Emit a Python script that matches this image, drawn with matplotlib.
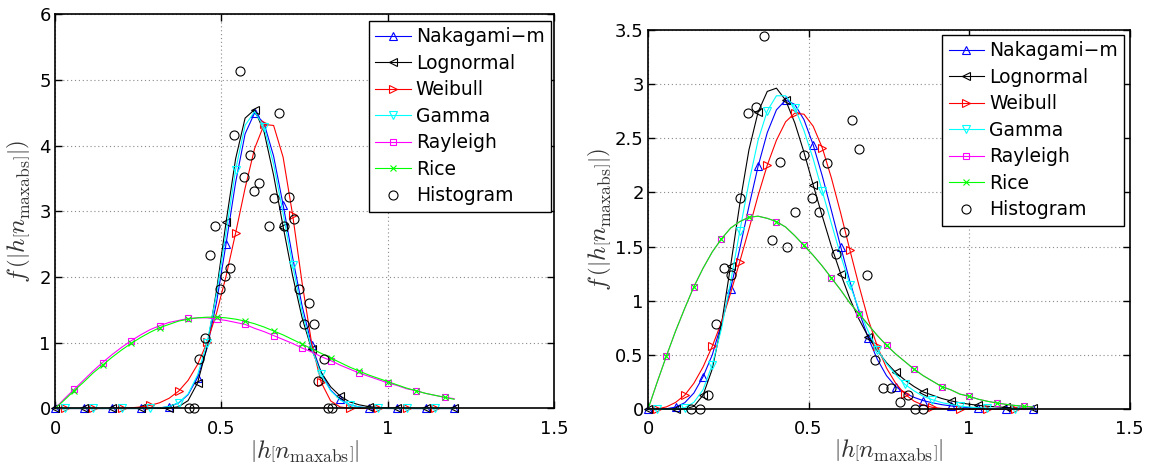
import numpy as np
import matplotlib
matplotlib.use('Agg')
import matplotlib.pyplot as plt
from matplotlib.ticker import FuncFormatter

plt.rcParams['font.family'] = 'DejaVu Sans'
plt.rcParams['mathtext.fontset'] = 'cm'

# ---------------------------------------------------------------------------
# Fitted pdfs, all sampled on the same grid 0 .. 1.2 (43 points)
# ---------------------------------------------------------------------------

x_fit = np.linspace(0, 1.2, 43)

# left panel
l_nakagami = [0, 0, 0, 0, 0, 0, 0, 0, 0, 0, 0, 0.009, 0.029, 0.083, 0.21, 0.47, 0.92, 1.62,
              2.51, 3.44, 4.18, 4.50, 4.34, 3.84, 3.10, 2.30, 1.56, 0.97, 0.55, 0.28, 0.14,
              0.059, 0.023, 0.009, 0.003, 0, 0, 0, 0, 0, 0, 0, 0]
l_lognormal = [0, 0, 0, 0, 0, 0, 0, 0, 0, 0, 0, 0, 0.004, 0.027, 0.12, 0.39, 0.94, 1.80,
               2.84, 3.80, 4.42, 4.55, 4.21, 3.55, 2.77, 2.02, 1.38, 0.90, 0.55, 0.33, 0.19,
               0.10, 0.056, 0.029, 0.015, 0.007, 0.004, 0.002, 0, 0, 0, 0, 0]
l_weibull = [0, 0, 0, 0, 0, 0, 0.002, 0.004, 0.010, 0.023, 0.046, 0.087, 0.155, 0.263,
             0.428, 0.670, 1.006, 1.454, 2.016, 2.669, 3.354, 3.957, 4.324, 4.308, 3.825,
             2.949, 1.910, 0.996, 0.400, 0.116, 0.023, 0.003, 0, 0, 0, 0, 0, 0, 0, 0, 0, 0, 0]
l_gamma = [0, 0, 0, 0, 0, 0, 0, 0, 0, 0, 0, 0.009, 0.030, 0.088, 0.22, 0.51, 1.00, 1.75,
           2.68, 3.63, 4.31, 4.52, 4.28, 3.72, 2.97, 2.18, 1.47, 0.91, 0.52, 0.27, 0.13,
           0.057, 0.023, 0.009, 0.003, 0, 0, 0, 0, 0, 0, 0, 0]
l_rayleigh = [0, 0.15, 0.29, 0.43, 0.57, 0.70, 0.82, 0.93, 1.03, 1.12, 1.20, 1.26, 1.31,
              1.34, 1.37, 1.38, 1.38, 1.36, 1.34, 1.31, 1.28, 1.22, 1.17, 1.11, 1.05, 0.99,
              0.92, 0.86, 0.79, 0.73, 0.66, 0.60, 0.54, 0.49, 0.44, 0.39, 0.35, 0.30, 0.27,
              0.23, 0.20, 0.17, 0.15]
l_rice = [0, 0.13, 0.27, 0.40, 0.54, 0.66, 0.78, 0.89, 0.99, 1.08, 1.16, 1.23, 1.28, 1.33,
          1.36, 1.38, 1.39, 1.39, 1.38, 1.36, 1.33, 1.29, 1.24, 1.18, 1.12, 1.05, 0.98, 0.91,
          0.84, 0.77, 0.70, 0.63, 0.57, 0.51, 0.46, 0.41, 0.36, 0.31, 0.27, 0.23, 0.20, 0.17,
          0.14]

l_hist_x = [0.403, 0.418, 0.434, 0.450, 0.466, 0.480, 0.496, 0.510, 0.525, 0.539, 0.555,
            0.569, 0.585, 0.599, 0.614, 0.644, 0.658, 0.674, 0.689, 0.704, 0.719, 0.734,
            0.748, 0.764, 0.778, 0.792, 0.808, 0.820, 0.834]
l_hist_y = [0, 0, 0.75, 1.08, 2.34, 2.78, 1.82, 2.02, 2.14, 4.16, 5.13, 3.53, 3.86, 3.31,
            3.43, 2.78, 3.21, 4.50, 2.78, 3.22, 2.89, 1.82, 1.28, 1.60, 1.28, 0.42, 0.75, 0, 0]

# right panel
r_nakagami = [0, 0, 0.005, 0.02, 0.06, 0.15, 0.30, 0.50, 0.79, 1.11, 1.48, 1.87, 2.24,
              2.55, 2.76, 2.85, 2.81, 2.67, 2.44, 2.15, 1.83, 1.50, 1.18, 0.90, 0.66, 0.46,
              0.31, 0.21, 0.15, 0.11, 0.08, 0.06, 0.043, 0.031, 0.022, 0.015, 0.010, 0.006,
              0.004, 0.002, 0.001, 0, 0]
r_lognormal = [0, 0, 0, 0, 0.003, 0.027, 0.13, 0.37, 0.78, 1.32, 1.89, 2.39, 2.74, 2.93,
               2.96, 2.85, 2.64, 2.37, 2.07, 1.78, 1.50, 1.25, 1.02, 0.83, 0.67, 0.54, 0.43,
               0.34, 0.27, 0.21, 0.16, 0.13, 0.10, 0.078, 0.060, 0.047, 0.037, 0.028, 0.022,
               0.017, 0.013, 0.010, 0.008]
r_weibull = [0, 0.003, 0.022, 0.063, 0.13, 0.24, 0.39, 0.58, 0.80, 1.07, 1.36, 1.66, 1.97,
             2.25, 2.48, 2.65, 2.73, 2.72, 2.61, 2.41, 2.13, 1.81, 1.47, 1.14, 0.83, 0.58,
             0.38, 0.24, 0.14, 0.075, 0.038, 0.018, 0.008, 0.003, 0.001, 0, 0, 0, 0, 0, 0, 0, 0]
r_gamma = [0, 0, 0, 0.002, 0.015, 0.064, 0.18, 0.41, 0.74, 1.17, 1.64, 2.09, 2.48, 2.75,
           2.89, 2.89, 2.78, 2.57, 2.31, 2.01, 1.71, 1.42, 1.15, 0.92, 0.72, 0.55, 0.42,
           0.32, 0.23, 0.17, 0.12, 0.088, 0.062, 0.044, 0.030, 0.021, 0.014, 0.010, 0.007,
           0.004, 0.003, 0.002, 0.001]
r_rayleigh = [0, 0.25, 0.49, 0.72, 0.93, 1.13, 1.30, 1.45, 1.57, 1.67, 1.73, 1.77, 1.78,
              1.76, 1.73, 1.68, 1.60, 1.51, 1.42, 1.32, 1.21, 1.10, 0.98, 0.88, 0.78, 0.68,
              0.59, 0.51, 0.44, 0.37, 0.31, 0.26, 0.21, 0.18, 0.14, 0.12, 0.093, 0.074,
              0.058, 0.046, 0.035, 0.027, 0.021]
r_rice = [0, 0.25, 0.49, 0.72, 0.93, 1.13, 1.30, 1.45, 1.57, 1.67, 1.73, 1.77, 1.78, 1.76,
          1.73, 1.68, 1.60, 1.51, 1.42, 1.32, 1.21, 1.10, 0.98, 0.88, 0.78, 0.68, 0.59,
          0.51, 0.44, 0.37, 0.31, 0.26, 0.21, 0.18, 0.14, 0.12, 0.093, 0.074, 0.058, 0.046,
          0.035, 0.027, 0.021]

r_hist_x = [0.134, 0.162, 0.188, 0.212, 0.237, 0.258, 0.287, 0.312, 0.337, 0.361, 0.385,
            0.411, 0.434, 0.459, 0.486, 0.510, 0.534, 0.559, 0.585, 0.609, 0.634, 0.658,
            0.683, 0.708, 0.733, 0.758, 0.784, 0.809, 0.832, 0.856]
r_hist_y = [0, 0, 0.13, 0.785, 1.305, 1.237, 1.95, 2.73, 2.79, 3.44, 1.56, 2.276, 1.495,
            1.82, 2.34, 1.95, 1.82, 2.27, 1.43, 1.63, 2.665, 2.40, 1.236, 0.454, 0.197,
            0.197, 0.07, 0.13, 0, 0]

# label, colour, marker, marker size, first marked sample
FITS = [
    ('Nakagami\u2212m', '#0000ff', '^', 6, 0),
    ('Lognormal', '#000000', '<', 6, 0),
    ('Weibull', '#ff0000', '>', 6, 1),
    ('Gamma', '#00ffff', 'v', 6, 1),
    ('Rayleigh', '#ff00ff', 's', 5, 2),
    ('Rice', '#00ff00', 'x', 4.5, 2),
]

XLABEL = r'$\left|h\left[n_{\mathrm{maxabs}}\right]\right|$'
YLABEL = r'$f\,\left(\left|h\left[n_{\mathrm{maxabs}}\right]\right|\right)$'


def draw_panel(ax, curves, hist_x, hist_y, ymax, ystep, leg_anchor, ylab_x):
    for (label, color, marker, ms, start), y in zip(FITS, curves):
        ax.plot(x_fit, y, color=color, lw=0.8, marker=marker, ms=ms, mfc='none',
                mec=color, mew=0.8, markevery=(start, 3), clip_on=False, label=label)
    ax.plot(hist_x, hist_y, 'o', ms=6.5, mfc='none', mec='k', mew=0.8,
            clip_on=False, label='Histogram')

    ax.set_xlim(0, 1.5)
    ax.set_ylim(0, ymax)
    ax.set_xticks([0, 0.5, 1, 1.5])
    ax.set_yticks(np.arange(0, ymax + 1e-9, ystep))
    fmt = FuncFormatter(lambda v, p: f'{v:g}')
    ax.xaxis.set_major_formatter(fmt)
    ax.yaxis.set_major_formatter(fmt)
    ax.tick_params(direction='in', length=5, width=1, top=True, right=True, labelsize=13)
    ax.tick_params(axis='x', pad=8)
    ax.tick_params(axis='y', pad=3)
    for sp in ax.spines.values():
        sp.set_linewidth(1.2)
    ax.grid(True, ls=(0, (1, 2.5)), lw=0.8, color='#8a8a8a')
    ax.set_axisbelow(True)

    ax.set_xlabel(XLABEL, fontsize=18, color='#333333')
    ax.set_ylabel(YLABEL, fontsize=18, color='#333333')
    ax.xaxis.set_label_coords(0.5, -0.11)
    ax.xaxis.label.set_va('center')
    ax.yaxis.set_label_coords(ylab_x, 0.5)
    ax.yaxis.label.set_va('center')

    leg = ax.legend(loc='upper right', bbox_to_anchor=leg_anchor, borderaxespad=0,
                    fancybox=False, edgecolor='k', framealpha=1, fontsize=13.5,
                    handlelength=1.9, handletextpad=0.25, labelspacing=0.4,
                    borderpad=0.35, numpoints=1)
    leg.get_frame().set_linewidth(1.0)


fig = plt.figure(figsize=(11.51, 4.66), dpi=100)
ax_l = fig.add_axes([0.0478, 0.1234, 0.4335, 0.8459])
ax_r = fig.add_axes([0.563, 0.1217, 0.4184, 0.8148])

draw_panel(ax_l, [l_nakagami, l_lognormal, l_weibull, l_gamma, l_rayleigh, l_rice],
           l_hist_x, l_hist_y, 6, 1, (0.994, 0.9835), -0.072)
draw_panel(ax_r, [r_nakagami, r_lognormal, r_weibull, r_gamma, r_rayleigh, r_rice],
           r_hist_x, r_hist_y, 3.5, 0.5, (0.989, 0.987), -0.1)

fig.savefig('out.png', dpi=100)
